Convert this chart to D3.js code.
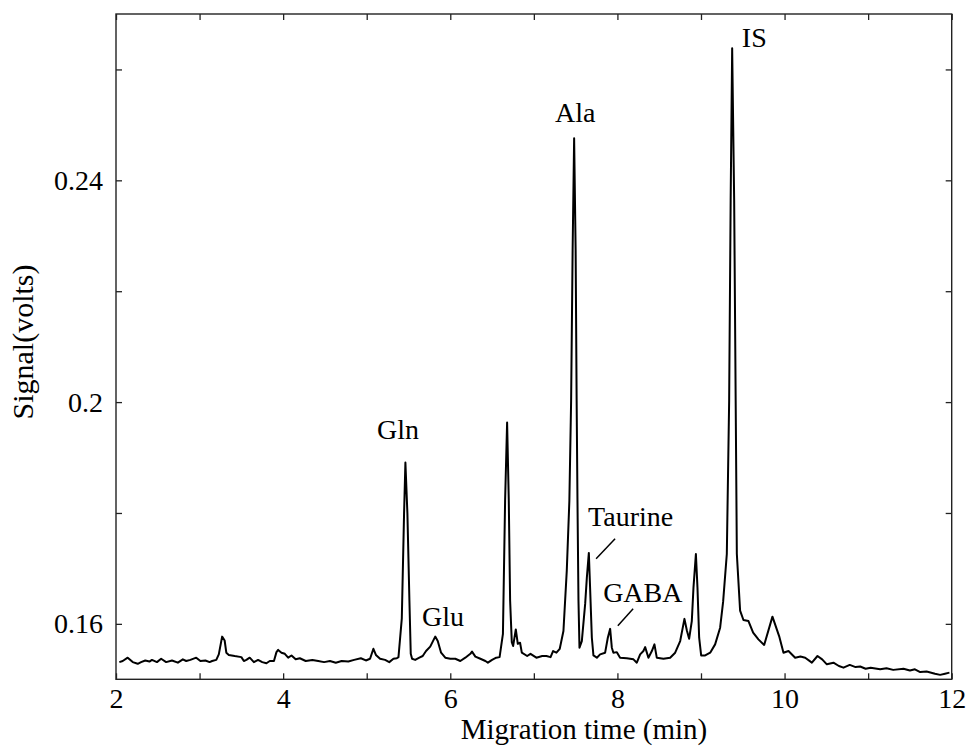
<!DOCTYPE html>
<html>
<head>
<meta charset="utf-8">
<script src="https://cdn.jsdelivr.net/npm/d3@7"></script>
<style>
body { margin: 0; background: #fff; }
svg text { font-family: "Liberation Serif", "Times New Roman", serif; fill: #000; }
</style>
</head>
<body>
<div id="chart"><svg></svg></div>
<script>
// migration time (min) and detector signal (volts)
var times = [2.04,2.08,2.14,2.20,2.26,2.30,2.35,2.40,2.43,2.49,2.54,2.60,2.67,2.74,2.80,2.84,2.89,2.96,3.01,3.07,
  3.12,3.15,3.20,3.23,3.27,3.30,3.32,3.35,3.42,3.50,3.53,3.56,3.60,3.65,3.70,3.75,3.80,3.84,3.89,3.92,
  3.94,3.98,4.02,4.06,4.10,4.15,4.20,4.27,4.35,4.42,4.49,4.56,4.63,4.70,4.78,4.85,4.93,4.99,5.04,5.08,
  5.11,5.16,5.22,5.27,5.32,5.36,5.38,5.42,5.447,5.463,5.487,5.511,5.527,5.543,5.58,5.63,5.67,5.71,5.76,5.82,
  5.85,5.89,5.94,6.00,6.06,6.12,6.18,6.24,6.26,6.30,6.36,6.42,6.45,6.50,6.55,6.59,6.63,6.656,6.68,6.70,
  6.716,6.736,6.752,6.784,6.808,6.835,6.856,6.92,6.96,7.03,7.10,7.15,7.20,7.23,7.27,7.31,7.354,7.394,7.425,7.446,
  7.464,7.482,7.50,7.512,7.522,7.534,7.546,7.574,7.614,7.634,7.658,7.673,7.694,7.713,7.754,7.793,7.853,7.885,7.913,7.933,
  7.952,7.993,8.032,8.112,8.192,8.232,8.272,8.311,8.332,8.371,8.412,8.443,8.471,8.551,8.631,8.691,8.751,8.802,8.831,8.858,
  8.890,8.910,8.939,8.958,8.978,9.002,9.050,9.110,9.169,9.229,9.265,9.309,9.337,9.355,9.373,9.397,9.415,9.429,9.468,9.508,
  9.568,9.624,9.687,9.756,9.855,9.935,9.987,10.047,10.127,10.19,10.247,10.327,10.394,10.45,10.506,10.585,10.65,10.705,10.78,10.85,
  10.905,10.97,11.03,11.144,11.22,11.30,11.423,11.50,11.56,11.623,11.70,11.80,11.862,11.92,11.973]

var signal = [0.1531,0.1533,0.1539,0.1531,0.1528,0.1531,0.1534,0.1532,0.1535,0.1531,0.1537,0.1531,0.1534,0.1530,0.1536,0.1533,0.1535,0.1539,0.1533,0.1534,
  0.1531,0.1533,0.1535,0.1545,0.1577,0.1570,0.1548,0.1544,0.1542,0.1540,0.1533,0.1535,0.1539,0.1531,0.1535,0.1531,0.1529,0.1533,0.1533,0.1549,
  0.1553,0.1548,0.1546,0.1539,0.1543,0.1536,0.1538,0.1533,0.1535,0.1533,0.1531,0.1533,0.1530,0.1533,0.1532,0.1535,0.1538,0.1534,0.1537,0.1555,
  0.1544,0.1537,0.1535,0.1531,0.1537,0.1538,0.1540,0.1610,0.1799,0.1891,0.1799,0.1642,0.1546,0.1537,0.1535,0.1539,0.1542,0.1551,0.1559,0.1577,
  0.1569,0.1548,0.1539,0.1537,0.1537,0.1533,0.1539,0.1546,0.1550,0.1541,0.1537,0.1533,0.1530,0.1535,0.1539,0.1540,0.1582,0.1822,0.1963,0.1822,
  0.1642,0.1567,0.1560,0.1590,0.1564,0.1566,0.1548,0.1542,0.1546,0.1539,0.1542,0.1542,0.1540,0.1551,0.1548,0.1555,0.1587,0.1696,0.1822,0.2003,
  0.2274,0.2476,0.2274,0.2003,0.1822,0.1642,0.1557,0.1569,0.1636,0.1683,0.1728,0.1665,0.1575,0.1543,0.1539,0.1545,0.1548,0.1575,0.1591,0.1557,
  0.1548,0.1549,0.1539,0.1538,0.1536,0.1530,0.1545,0.1551,0.1558,0.1539,0.1551,0.1563,0.1539,0.1537,0.1539,0.1548,0.1569,0.1609,0.1588,0.1573,
  0.1605,0.1665,0.1726,0.1665,0.1575,0.1543,0.1543,0.1548,0.1563,0.1593,0.1640,0.1726,0.2003,0.2364,0.2638,0.2364,0.2003,0.1726,0.1624,0.1607,
  0.1605,0.1584,0.1572,0.1562,0.1613,0.1578,0.1548,0.1551,0.1539,0.1541,0.1539,0.1530,0.1542,0.1536,0.1527,0.1530,0.1524,0.1521,0.1526,0.1522,
  0.1523,0.1519,0.1521,0.1518,0.1520,0.1517,0.1519,0.1516,0.1518,0.1513,0.1514,0.1510,0.1508,0.1510,0.1512]

var xTicks = [2,3,4,5,6,7,8,9,10,11,12]
var xLabels = [2,4,6,8,10,12]
var yTicks = [0.16,0.18,0.2,0.22,0.24,0.26]
var yLabels = ["0.16","0.2","0.24"]

// peak labels: text, time, signal, anchor
var peakNames = ["Gln","Glu","Ala","IS","Taurine","GABA"]
var peakTimes = [5.375,5.914,7.494,9.489,7.649,7.829]
var peakSignals = [0.1934,0.1596,0.2505,0.2641,0.1777,0.1639]
var peakAnchors = ["middle","middle","middle","start","start","start"]

// leader lines for Taurine and GABA: [t1,s1,t2,s2]
var leaders = [[7.972,0.17536,7.745,0.17174],[8.188,0.16271,8.005,0.15964]]

var screen = {width:971,height:746}
var margins = {left:116,top:14,right:19.3,bottom:66.7}
var graph = {
    width:screen.width-margins.left-margins.right,
    height:screen.height-margins.top-margins.bottom
}

var svg = d3.select("#chart svg")
    .attr("width",screen.width)
    .attr("height",screen.height)

var xScale = d3.scaleLinear()
    .domain([2,12])
    .range([0,graph.width])

var yScale = d3.scaleLinear()
    .domain([0.15,0.27])
    .range([graph.height,0])

var makeTranslateString = function(x,y)
{
    return "translate("+x+","+y+")";
}

var target = svg.append("g")
    .attr("transform",makeTranslateString(margins.left,margins.top))

// frame
target.append("rect")
    .attr("width",graph.width)
    .attr("height",graph.height)
    .attr("fill","none")
    .attr("stroke","#222")
    .attr("stroke-width",1.4)

var styleAxis = function(g)
{
    g.select(".domain").remove()
    g.selectAll(".tick line").attr("stroke","#222").attr("stroke-width",1.3)
    g.selectAll(".tick text")
        .style("font-family","'Liberation Serif', serif")
        .style("font-size","28px")
        .attr("fill","#000")
}

var xAxis = d3.axisBottom(xScale)
    .tickValues(xTicks)
    .tickSizeInner(-6)
    .tickSizeOuter(0)
    .tickPadding(9)
    .tickFormat(function(d){ return xLabels.indexOf(d) >= 0 ? d : "" })
target.append("g")
    .attr("transform",makeTranslateString(0,graph.height))
    .call(xAxis)
    .call(styleAxis)

var xTop = d3.axisTop(xScale)
    .tickValues(xTicks)
    .tickSizeInner(-6)
    .tickSizeOuter(0)
    .tickFormat("")
target.append("g").call(xTop).call(styleAxis)

var yAxis = d3.axisLeft(yScale)
    .tickValues(yTicks)
    .tickSizeInner(-6)
    .tickSizeOuter(0)
    .tickPadding(13)
    .tickFormat(function(d){
        var s = String(+d.toFixed(2))
        return yLabels.indexOf(s) >= 0 ? s : ""
    })
target.append("g").call(yAxis).call(styleAxis)

var yRight = d3.axisRight(yScale)
    .tickValues(yTicks)
    .tickSizeInner(-6)
    .tickSizeOuter(0)
    .tickFormat("")
target.append("g")
    .attr("transform",makeTranslateString(graph.width,0))
    .call(yRight)
    .call(styleAxis)

// trace
var points = times.map(function(t,i){ return {t:t, s:signal[i]} })
var line = d3.line()
    .x(function(d){ return xScale(d.t) })
    .y(function(d){ return yScale(d.s) })

target.append("path")
    .datum(points)
    .attr("d",line)
    .attr("fill","none")
    .attr("stroke","#000")
    .attr("stroke-width",2)
    .attr("stroke-linejoin","round")

// peak labels
target.selectAll(".peak")
    .data(peakNames)
    .enter()
    .append("text")
    .attr("class","peak")
    .attr("x",function(d,i){ return xScale(peakTimes[i]) })
    .attr("y",function(d,i){ return yScale(peakSignals[i]) })
    .attr("text-anchor",function(d,i){ return peakAnchors[i] })
    .style("font-size","28px")
    .text(function(d){ return d })

target.selectAll(".leader")
    .data(leaders)
    .enter()
    .append("line")
    .attr("x1",function(d){ return xScale(d[0]) })
    .attr("y1",function(d){ return yScale(d[1]) })
    .attr("x2",function(d){ return xScale(d[2]) })
    .attr("y2",function(d){ return yScale(d[3]) })
    .attr("stroke","#000")
    .attr("stroke-width",1.5)

// axis titles
svg.append("text")
    .text("Migration time (min)")
    .attr("text-anchor","middle")
    .attr("x",584)
    .attr("y",739)
    .style("font-size","29px")

svg.append("text")
    .text("Signal(volts)")
    .attr("text-anchor","middle")
    .attr("transform",makeTranslateString(33,342)+" rotate(-90)")
    .style("font-size","30px")
</script>
</body>
</html>
